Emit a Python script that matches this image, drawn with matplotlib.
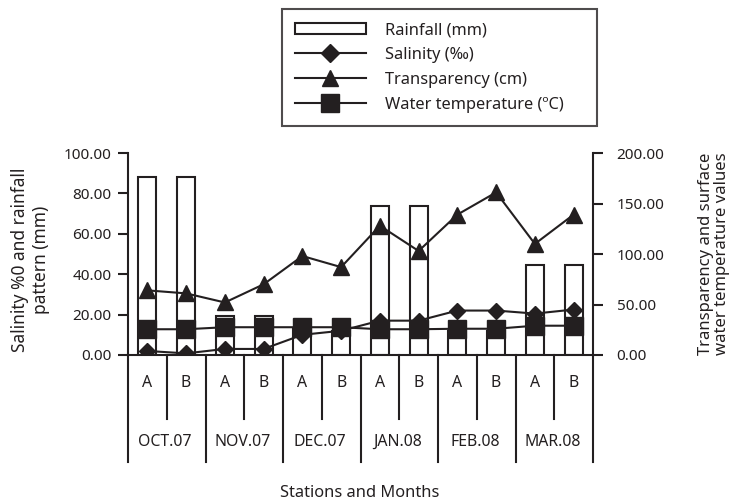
import matplotlib
matplotlib.use("Agg")
import matplotlib.pyplot as plt
from matplotlib.patches import Patch
from matplotlib.lines import Line2D

plt.rcParams['font.family'] = ['Noto Sans', 'DejaVu Sans']
plt.rcParams['font.size'] = 11

months = ["OCT.07", "NOV.07", "DEC.07", "JAN.08", "FEB.08", "MAR.08"]
stations = ["A", "B"]
rainfall = [88, 88, 19.5, 19.5, 13, 12, 74, 74, 12, 12, 44.5, 44.5]
salinity = [2, 0.8, 3, 3, 10, 12, 17, 17, 22, 22, 20.5, 22.5]
transparency = [64, 61, 52, 70, 98, 87, 128, 103, 139, 161, 110, 139]
water_temp = [25.5, 25.5, 27.5, 27.5, 27.5, 27.5, 25.5, 25.5, 26, 26, 29, 29]

n = len(rainfall)
x = list(range(n))
ink = '#231f20'

fig = plt.figure(figsize=(7.29, 5.01), dpi=100)
ax = fig.add_axes([128/729, 146/501, 465/729, 202/501])
ax2 = ax.twinx()

lw = 1.5
ax.bar(x, rainfall, width=0.47, facecolor='white', edgecolor=ink, linewidth=lw, zorder=2)
ax.plot(x, salinity, color=ink, lw=lw, marker='D', ms=8.5, zorder=3)
ax2.plot(x, transparency, color=ink, lw=lw, marker='^', ms=11, zorder=3)
ax2.plot(x, water_temp, color=ink, lw=lw, marker='s', ms=13.5, zorder=4)

ax.set_xlim(-0.5, n - 0.5)
ax.set_ylim(0, 100)
ax2.set_ylim(0, 200)
ax.set_yticks([0, 20, 40, 60, 80, 100])
ax.set_yticklabels([f"{v:.2f}" for v in [0, 20, 40, 60, 80, 100]])
ax2.set_yticks([0, 50, 100, 150, 200])
ax2.set_yticklabels([f"{v:.2f}" for v in [0, 50, 100, 150, 200]])
ax.set_xticks([])

for a in (ax, ax2):
    a.spines['top'].set_visible(False)
    a.spines['bottom'].set_visible(False)
    for s in a.spines.values():
        s.set_linewidth(lw)
        s.set_color(ink)
ax.spines['right'].set_visible(False)
ax2.spines['left'].set_visible(False)
ax.tick_params(axis='y', direction='out', length=7, width=lw, pad=5, colors=ink)
ax2.tick_params(axis='y', direction='out', length=7, width=lw, pad=10, colors=ink)

ax.set_ylabel("Salinity %0 and rainfall\npattern (mm)", color=ink, fontsize=12.5)
ax2.set_ylabel("Transparency and surface\nwater temperature values", color=ink, fontsize=12,
               linespacing=1.0)
ax.yaxis.set_label_coords(-0.168, 0.47)
ax2.yaxis.set_label_coords(1.226, 0.5)

# baseline
tr = ax.get_xaxis_transform()
ax.plot([-0.5, n - 0.5], [0, 0], transform=tr, color=ink, lw=lw, clip_on=False, zorder=5)

# category table below the axis
ab_bottom = -(419 - 355) / 202
grp_bottom = -(462 - 355) / 202
for k in range(len(months) + 1):
    xv = 2 * k - 0.5
    ax.plot([xv, xv], [0, grp_bottom], transform=tr, color=ink, lw=lw, clip_on=False)
for k in range(len(months)):
    xv = 2 * k + 0.5
    ax.plot([xv, xv], [0, ab_bottom], transform=tr, color=ink, lw=lw, clip_on=False)
for i in range(n):
    ax.text(i, -(383 - 355) / 202, stations[i % 2], transform=tr, ha='center', va='center',
            color=ink, fontsize=11.4)
for k, m in enumerate(months):
    ax.text(2 * k + 0.45, -(442 - 355) / 202, m, transform=tr, ha='center', va='center',
            color=ink, fontsize=11.4)

fig.text(360 / 729, 1 - 493 / 501, "Stations and Months", ha='center', va='center',
         color=ink, fontsize=11.8)

handles = [
    Patch(facecolor='white', edgecolor=ink, linewidth=lw),
    Line2D([], [], color=ink, lw=lw, marker='D', ms=9),
    Line2D([], [], color=ink, lw=lw, marker='^', ms=12),
    Line2D([], [], color=ink, lw=lw, marker='s', ms=13.5),
]
labels = ["Rainfall (mm)", "Salinity (\u2030)", "Transparency (cm)", "Water temperature (\u00baC)"]
leg = fig.legend(handles, labels, loc='upper left',
                 bbox_to_anchor=(282 / 729, 1 - 9 / 501 - 0.01, 315 / 729, 0.01),
                 mode='expand', frameon=True, fancybox=False, edgecolor=ink,
                 prop={'size': 11.8},
                 handlelength=4.3, handletextpad=1.2, borderpad=0.8, labelspacing=0.55,
                 borderaxespad=0, numpoints=1)
leg.get_frame().set_linewidth(lw)
for t in leg.get_texts():
    t.set_color(ink)

fig.savefig("out.png", dpi=100)
